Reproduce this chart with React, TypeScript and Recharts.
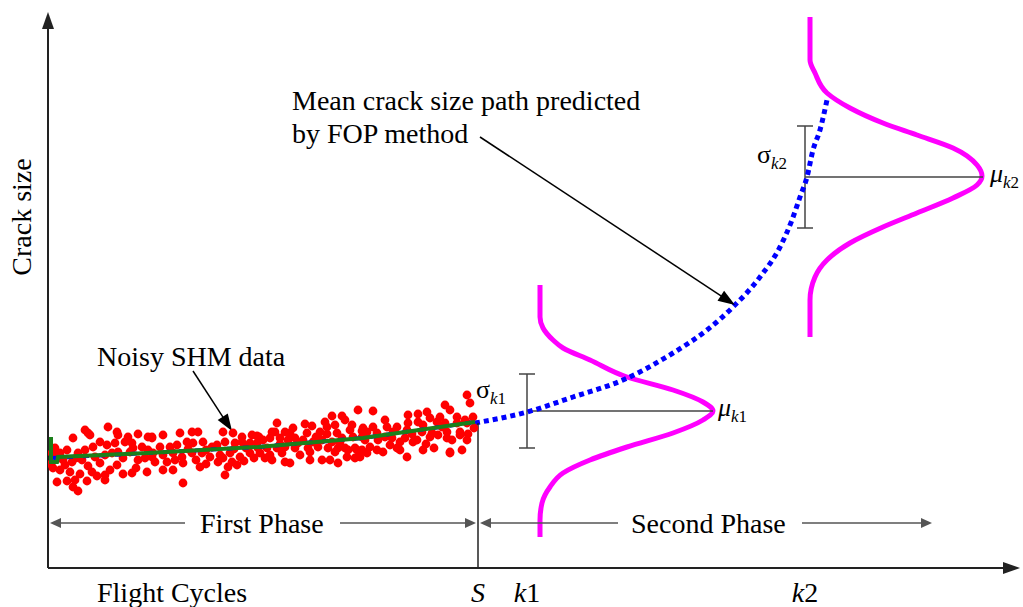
import React from 'react';
import { ComposedChart, XAxis, YAxis, Line, Scatter, ReferenceLine, ReferenceDot } from 'recharts';

const W = 1023;
const H = 607;
const X_MAX = 972; // flight cycles (arbitrary units)
const Y_MAX = 556; // crack size (arbitrary units)

// noisy SHM measurements in the first phase [cycles, crack size]
const shmPoints: [number, number][] = [
  [37, 138], [40, 135], [60, 141], [69, 136], [70, 133], [80, 131], [90, 134], [100, 131], [104, 130],
  [25, 130], [42, 133], [7, 120], [19, 118], [30, 115], [37, 118], [45, 121], [52, 126], [59, 123],
  [67, 125], [77, 126], [84, 125], [85, 120], [94, 121], [100, 118], [4, 115], [12, 115], [15, 108],
  [24, 106], [34, 108], [47, 111], [57, 113], [64, 115], [70, 116], [75, 110], [82, 116], [90, 108],
  [97, 110], [104, 111], [5, 100], [12, 98], [22, 96], [32, 94], [40, 102], [44, 96], [49, 92],
  [57, 93], [69, 103], [75, 94], [84, 95], [99, 96], [9, 86], [19, 87], [27, 88], [39, 87], [57, 88],
  [25, 81], [30, 77], [3, 104], [10, 110], [17, 103], [28, 110], [52, 105], [62, 98], [88, 100],
  [115, 133], [132, 135], [144, 136], [150, 136], [175, 136], [185, 135], [194, 131], [204, 133],
  [209, 132], [104, 131], [112, 121], [122, 121], [129, 123], [139, 126], [145, 125], [155, 126],
  [164, 121], [169, 123], [177, 126], [187, 125], [194, 126], [202, 125], [209, 125], [105, 115],
  [115, 113], [125, 115], [134, 111], [144, 115], [154, 115], [162, 111], [172, 113], [182, 115],
  [192, 111], [202, 115], [107, 106], [119, 106], [127, 108], [135, 105], [170, 106], [175, 110],
  [184, 106], [115, 98], [125, 98], [152, 101], [180, 101], [189, 103], [177, 93], [135, 85],
  [140, 119], [158, 118], [186, 119], [198, 120], [148, 108], [158, 104], [196, 107], [206, 110],
  [229, 145], [257, 144], [264, 142], [277, 146], [284, 152], [294, 152], [297, 148], [304, 143],
  [310, 158], [287, 143], [279, 141], [224, 136], [227, 136], [237, 136], [242, 135], [259, 135],
  [272, 136], [279, 134], [289, 135], [302, 138], [314, 137], [211, 131], [215, 128], [222, 130],
  [232, 130], [240, 128], [247, 130], [255, 128], [265, 126], [274, 128], [284, 126], [294, 130],
  [305, 131], [314, 131], [210, 120], [219, 120], [229, 120], [237, 121], [247, 120], [260, 120],
  [270, 121], [280, 120], [290, 120], [297, 120], [307, 120], [212, 115], [222, 113], [234, 115],
  [252, 113], [287, 116], [300, 118], [309, 118], [217, 110], [224, 108], [237, 106], [242, 105],
  [274, 108], [282, 108], [290, 105], [299, 111], [307, 110], [250, 125], [262, 116], [268, 131],
  [245, 140], [292, 126], [262, 108], [232, 124],
  [419, 173], [422, 165], [397, 163], [402, 158], [325, 157], [379, 156], [370, 154], [360, 153],
  [337, 148], [382, 150], [392, 151], [409, 151], [425, 151], [417, 148], [315, 140], [325, 141],
  [339, 141], [349, 141], [360, 145], [370, 146], [375, 143], [389, 146], [397, 145], [409, 145],
  [419, 145], [319, 136], [329, 135], [345, 136], [359, 138], [374, 136], [384, 135], [399, 136],
  [412, 136], [317, 128], [330, 128], [344, 130], [357, 130], [369, 128], [382, 131], [390, 133],
  [399, 130], [412, 133], [404, 128], [322, 121], [342, 123], [349, 120], [365, 126], [402, 116],
  [414, 118], [419, 128], [314, 118], [319, 115], [329, 118], [335, 116], [352, 118], [359, 111],
  [375, 118], [402, 115], [312, 111], [337, 131], [352, 126], [378, 124], [394, 141], [426, 140],
  [420, 134], [364, 134], [386, 120],
];

// fitted curve through the SHM data
const fitPoints: [number, number][] = [[3, 131], [3, 106], [9, 106], [10, 111], [100, 115], [210, 121], [315, 130], [427, 146]];
// mean path, first phase (under the fit)
const meanFirst: [number, number][] = [[3, 110], [100, 115], [210, 121], [315, 130], [427, 146]];
// mean crack size path predicted by FOP
const meanPredicted: [number, number][] = [
  [427, 145], [479, 156], [525, 171], [575, 188], [625, 215], [659, 238], [685, 261], [712, 291],
  [732, 321], [744, 348], [752, 371], [759, 391], [765, 418], [772, 438], [779, 468],
];
// crack size distributions at k1 and k2 (bottom to top)
const pdfK1: [number, number][] = [
  [492, 31], [492, 48], [494, 65], [502, 81], [515, 95], [542, 108], [579, 121], [625, 135], [655, 148],
  [665, 157], [655, 166], [625, 178], [579, 191], [542, 208], [515, 220], [505, 228], [495, 240], [492, 251], [492, 283],
];
const pdfK2: [number, number][] = [
  [762, 231], [762, 268], [767, 291], [779, 308], [802, 325], [835, 341], [869, 355], [905, 370], [929, 383],
  [934, 392], [929, 403], [905, 420], [869, 433], [835, 445], [802, 460], [779, 475], [767, 495], [762, 508], [762, 551],
];

const S_CYCLE = 430;
const K1_CYCLE = 479;
const K2_CYCLE = 757;
const MU_K1 = 157;
const SIGMA_K1 = 37;
const MU_K2 = 391;
const SIGMA_K2 = 51;

const toXY = (pts: [number, number][]) => pts.map(([x, y]) => ({ x, y }));

const FONT = '"Liberation Serif", "Times New Roman", serif';

function arrowShape(color: string, width: number, headLen: number, headHalf: number, heads: 'end' | 'none') {
  return (p: any) => {
    const { x1, y1, x2, y2 } = p;
    const dx = x2 - x1;
    const dy = y2 - y1;
    const len = Math.hypot(dx, dy) || 1;
    const ux = dx / len;
    const uy = dy / len;
    const tri = (tx: number, ty: number, vx: number, vy: number) =>
      `${tx},${ty} ${tx - vx * headLen - vy * headHalf},${ty - vy * headLen + vx * headHalf} ${tx - vx * headLen + vy * headHalf},${ty - vy * headLen - vx * headHalf}`;
    const endTrim = heads === 'none' ? 0 : headLen * 0.8;
    return (
      <g>
        <line x1={x1} y1={y1} x2={x2 - ux * endTrim} y2={y2 - uy * endTrim} stroke={color} strokeWidth={width} />
        {heads !== 'none' && <polygon points={tri(x2, y2, ux, uy)} fill={color} />}
      </g>
    );
  };
}

function textShape(content: React.ReactNode, opts: { size?: number; anchor?: string; italic?: boolean; rotate?: number } = {}) {
  return (p: any) => {
    const { cx, cy } = p;
    return (
      <text
        x={0}
        y={0}
        transform={`translate(${cx},${cy})${opts.rotate ? ` rotate(${opts.rotate})` : ''}`}
        fontFamily={FONT}
        fontSize={opts.size ?? 28}
        fontStyle={opts.italic ? 'italic' : 'normal'}
        textAnchor={(opts.anchor as any) ?? 'start'}
        fill="#000"
      >
        {content}
      </text>
    );
  };
}

const sub = (a: string, b: string) => (
  <>
    <tspan fontSize={17} fontStyle="italic" dy={6}>{a}</tspan>
    <tspan fontSize={17}>{b}</tspan>
  </>
);

const Dot = (p: any) => <circle cx={p.cx} cy={p.cy} r={4.4} fill="#ff0000" />;
const NoDot = () => <g />;

export default function App() {
  const axisArrow = arrowShape('#222', 2, 17, 6, 'end');
  const noteArrow = arrowShape('#000', 1.5, 17, 6, 'end');
  const phaseArrow = arrowShape('#555', 1.5, 11, 5, 'end');
  const bar = arrowShape('#444', 1.5, 0, 0, 'none');

  return (
    <div style={{ position: 'absolute', left: 0, top: 0, width: W, height: H, background: '#fff' }}>
      <ComposedChart width={W} height={H} margin={{ top: 12, right: 3, bottom: 39, left: 48 }}>
        <XAxis type="number" dataKey="x" domain={[0, X_MAX]} hide allowDataOverflow />
        <YAxis type="number" dataKey="y" domain={[0, Y_MAX]} hide allowDataOverflow />

        <Scatter data={toXY(shmPoints)} shape={Dot} isAnimationActive={false} />
        {/* lines drawn as scatter joints so they sit on top of the dots */}
        <Scatter
          data={toXY(meanFirst)}
          shape={NoDot}
          line={{ stroke: '#0000ff', strokeWidth: 4, strokeDasharray: '6 10' }}
          lineType="joint"
          isAnimationActive={false}
        />
        <Scatter
          data={toXY(fitPoints)}
          shape={NoDot}
          line={{ stroke: '#1b7f1b', strokeWidth: 4 }}
          lineType="joint"
          isAnimationActive={false}
        />

        <Line data={toXY(pdfK1)} dataKey="y" type="monotoneY" stroke="#ff00ff" strokeWidth={5} dot={false} isAnimationActive={false} />
        <Line data={toXY(pdfK2)} dataKey="y" type="monotoneY" stroke="#ff00ff" strokeWidth={5} dot={false} isAnimationActive={false} />

        {/* sigma bars and mean lines */}
        <ReferenceLine segment={[{ x: K1_CYCLE, y: MU_K1 - SIGMA_K1 }, { x: K1_CYCLE, y: MU_K1 + SIGMA_K1 }]} shape={bar} ifOverflow="visible" />
        <ReferenceLine segment={[{ x: K1_CYCLE - 8, y: MU_K1 - SIGMA_K1 }, { x: K1_CYCLE + 8, y: MU_K1 - SIGMA_K1 }]} shape={bar} ifOverflow="visible" />
        <ReferenceLine segment={[{ x: K1_CYCLE - 8, y: MU_K1 + SIGMA_K1 }, { x: K1_CYCLE + 8, y: MU_K1 + SIGMA_K1 }]} shape={bar} ifOverflow="visible" />
        <ReferenceLine segment={[{ x: K1_CYCLE, y: MU_K1 }, { x: 665, y: MU_K1 }]} shape={bar} ifOverflow="visible" />
        <ReferenceLine segment={[{ x: K2_CYCLE, y: MU_K2 - SIGMA_K2 }, { x: K2_CYCLE, y: MU_K2 + SIGMA_K2 }]} shape={bar} ifOverflow="visible" />
        <ReferenceLine segment={[{ x: K2_CYCLE - 8, y: MU_K2 - SIGMA_K2 }, { x: K2_CYCLE + 8, y: MU_K2 - SIGMA_K2 }]} shape={bar} ifOverflow="visible" />
        <ReferenceLine segment={[{ x: K2_CYCLE - 8, y: MU_K2 + SIGMA_K2 }, { x: K2_CYCLE + 8, y: MU_K2 + SIGMA_K2 }]} shape={bar} ifOverflow="visible" />
        <ReferenceLine segment={[{ x: K2_CYCLE, y: MU_K2 }, { x: 935, y: MU_K2 }]} shape={bar} ifOverflow="visible" />

        <Line data={toXY(meanPredicted)} dataKey="y" type="monotoneX" stroke="#0000ff" strokeWidth={5} strokeDasharray="5 4" dot={false} isAnimationActive={false} />

        {/* S marker */}
        <ReferenceLine segment={[{ x: S_CYCLE, y: 0 }, { x: S_CYCLE, y: 145 }]} shape={arrowShape('#222', 1.5, 0, 0, 'none')} ifOverflow="visible" />

        {/* phase arrows */}
        <ReferenceLine segment={[{ x: 137, y: 45 }, { x: 2, y: 45 }]} shape={phaseArrow} ifOverflow="visible" />
        <ReferenceLine segment={[{ x: 292, y: 45 }, { x: 428, y: 45 }]} shape={phaseArrow} ifOverflow="visible" />
        <ReferenceLine segment={[{ x: 570, y: 45 }, { x: 432, y: 45 }]} shape={phaseArrow} ifOverflow="visible" />
        <ReferenceLine segment={[{ x: 754, y: 45 }, { x: 884, y: 45 }]} shape={phaseArrow} ifOverflow="visible" />

        {/* annotation arrows */}
        <ReferenceLine segment={[{ x: 432, y: 431 }, { x: 687, y: 263 }]} shape={noteArrow} ifOverflow="visible" />
        <ReferenceLine segment={[{ x: 145, y: 197 }, { x: 184, y: 137 }]} shape={noteArrow} ifOverflow="visible" />

        {/* axes */}
        <ReferenceLine segment={[{ x: 0, y: 0 }, { x: 0, y: Y_MAX }]} shape={axisArrow} ifOverflow="visible" />
        <ReferenceLine segment={[{ x: 0, y: 0 }, { x: X_MAX, y: 0 }]} shape={axisArrow} ifOverflow="visible" />

        {/* texts */}
        <ReferenceDot x={244} y={458} r={0} ifOverflow="visible" shape={textShape('Mean crack size path predicted')} />
        <ReferenceDot x={244} y={425} r={0} ifOverflow="visible" shape={textShape('by FOP method')} />
        <ReferenceDot x={49} y={202} r={0} ifOverflow="visible" shape={textShape('Noisy SHM data')} />
        <ReferenceDot x={152} y={35} r={0} ifOverflow="visible" shape={textShape('First Phase')} />
        <ReferenceDot x={583} y={35} r={0} ifOverflow="visible" shape={textShape('Second Phase')} />
        <ReferenceDot x={49} y={-34} r={0} ifOverflow="visible" shape={textShape('Flight Cycles')} />
        <ReferenceDot x={S_CYCLE} y={-34} r={0} ifOverflow="visible" shape={textShape('S', { anchor: 'middle', italic: true })} />
        <ReferenceDot x={K1_CYCLE} y={-34} r={0} ifOverflow="visible" shape={textShape(<><tspan fontStyle="italic">k</tspan>1</>, { anchor: 'middle' })} />
        <ReferenceDot x={K2_CYCLE} y={-34} r={0} ifOverflow="visible" shape={textShape(<><tspan fontStyle="italic">k</tspan>2</>, { anchor: 'middle' })} />
        <ReferenceDot x={-17} y={351} r={0} ifOverflow="visible" shape={textShape('Crack size', { anchor: 'middle', rotate: -90 })} />
        <ReferenceDot x={428} y={170} r={0} ifOverflow="visible" shape={textShape(<><tspan>σ</tspan>{sub('k', '1')}</>, { size: 26 })} />
        <ReferenceDot x={670} y={152} r={0} ifOverflow="visible" shape={textShape(<><tspan fontStyle="italic">μ</tspan>{sub('k', '1')}</>, { size: 26 })} />
        <ReferenceDot x={709} y={405} r={0} ifOverflow="visible" shape={textShape(<><tspan>σ</tspan>{sub('k', '2')}</>, { size: 26 })} />
        <ReferenceDot x={942} y={386} r={0} ifOverflow="visible" shape={textShape(<><tspan fontStyle="italic">μ</tspan>{sub('k', '2')}</>, { size: 26 })} />
      </ComposedChart>
    </div>
  );
}
